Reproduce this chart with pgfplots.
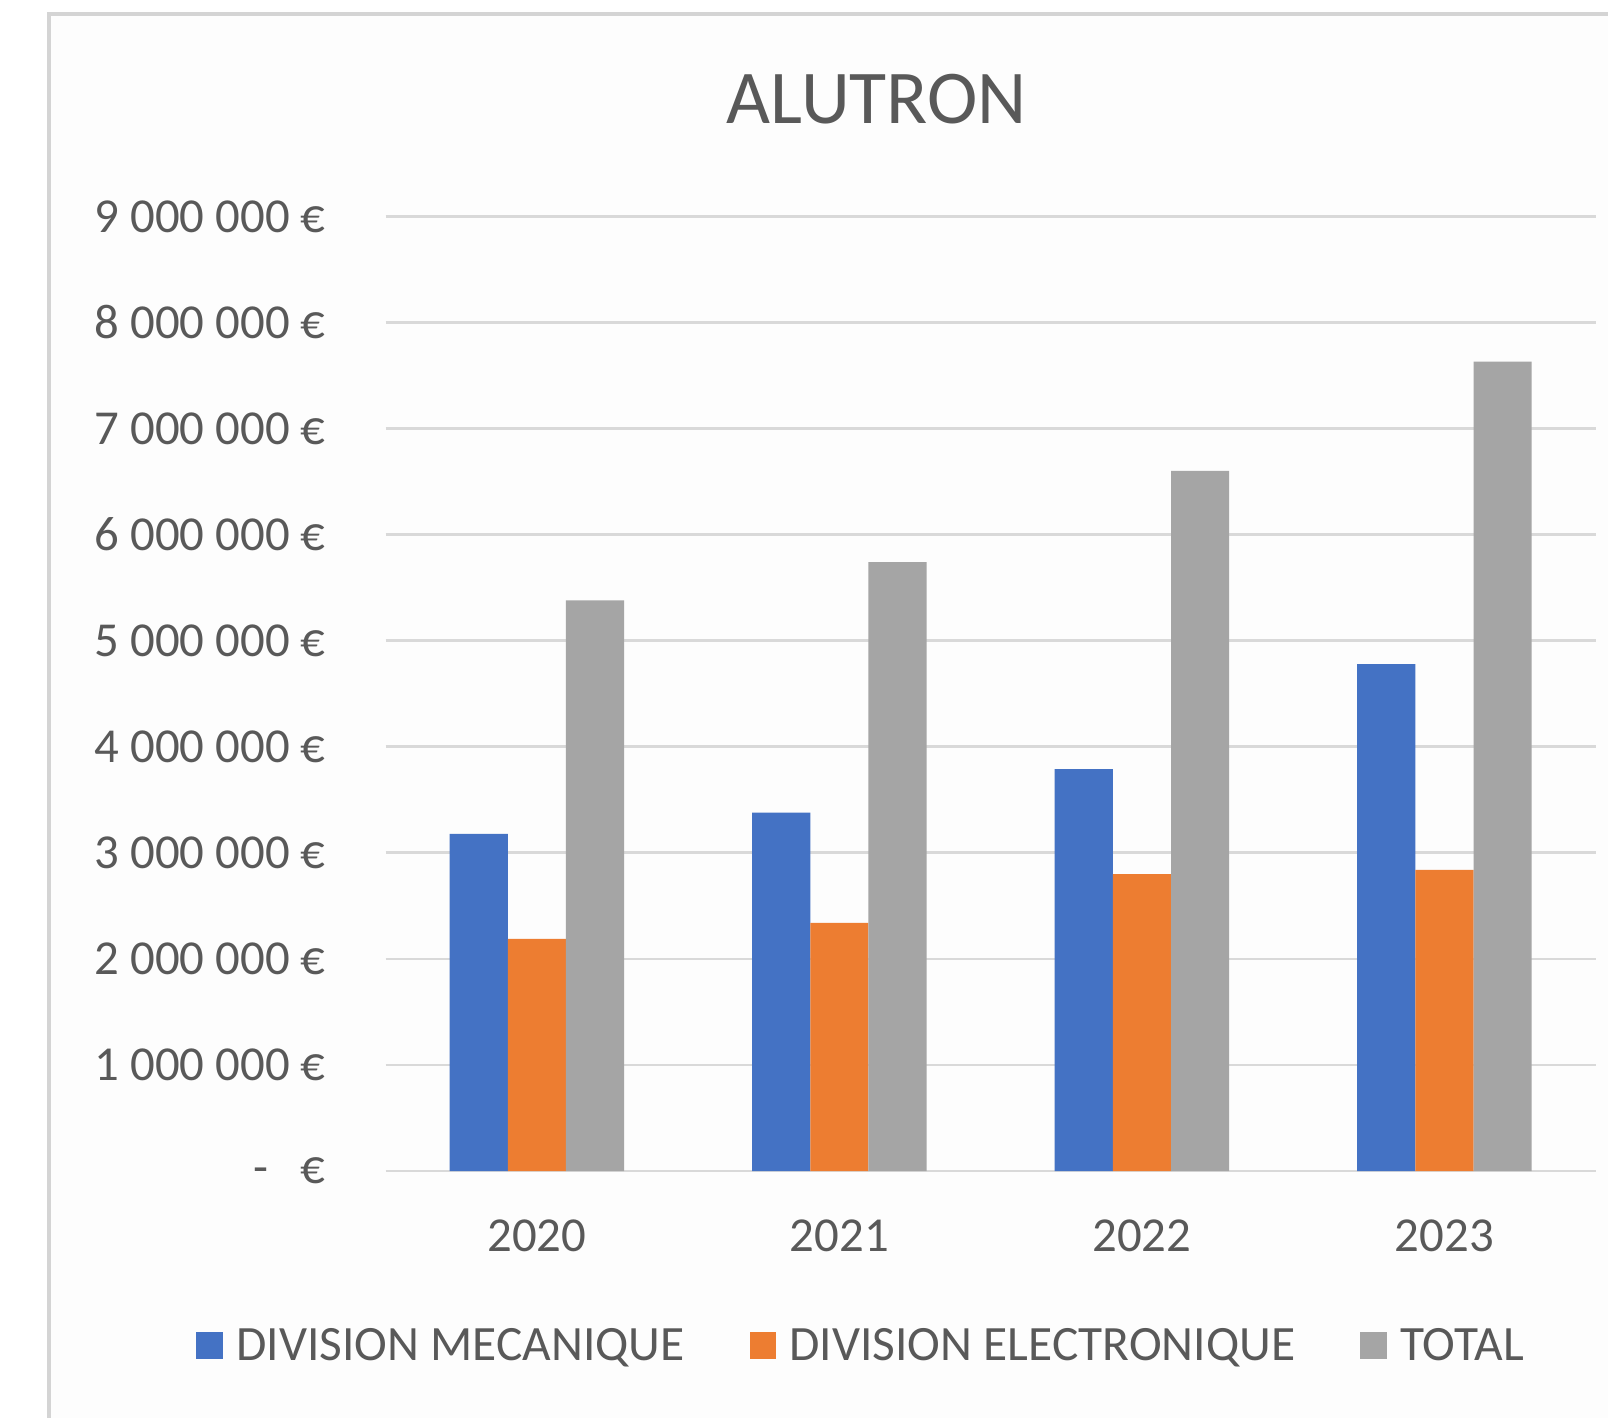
\documentclass[border=0pt]{standalone}
\usepackage{pgfplots}
\pgfplotsset{compat=1.18}
\usepackage{fontspec}
\setmainfont{Carlito}
\definecolor{cblue}{HTML}{4472C4}
\definecolor{corange}{HTML}{ED7D31}
\definecolor{cgray}{HTML}{A5A5A5}
\definecolor{ctext}{HTML}{595959}
\definecolor{cgrid}{HTML}{D9D9D9}
\definecolor{cborder}{HTML}{D4D4D4}
\definecolor{cbg}{HTML}{FDFDFD}
\begin{document}
\begin{tikzpicture}[x=1pt,y=1pt]
\useasboundingbox (0,0) rectangle (804,709);
\fill[white] (0,0) rectangle (804,709);
\fill[cbg] (24.6,0) rectangle (804,701.8);
\draw[cborder, line width=2pt] (24.6,-2) -- (24.6,701.8) -- (806,701.8);
\begin{axis}[
  at={(192.8pt,123.45pt)}, anchor=south west,
  width=605.05pt, height=477.35pt, scale only axis,
  ybar=0pt, bar width=29.1pt,
  xmin=-0.5, xmax=3.5, ymin=0, ymax=9000000,
  axis lines*=left,
  axis line style={draw=none},
  major tick length=0pt,
  xtick={0,1,2,3}, xticklabels={2020,2021,2022,2023},
  ytick={0,1000000,2000000,3000000,4000000,5000000,6000000,7000000,8000000,9000000},
  yticklabels={{-\hspace{16pt}€},{1 000 000 €},{2 000 000 €},{3 000 000 €},{4 000 000 €},{5 000 000 €},{6 000 000 €},{7 000 000 €},{8 000 000 €},{9 000 000 €}},
  scaled y ticks=false,
  ymajorgrids, grid style={cgrid, line width=1.4pt},
  ticklabel style={font=\fontsize{24.4}{29}\selectfont, text=ctext, inner sep=0pt},
  yticklabel style={anchor=east, xshift=-29.8pt},
  xticklabel style={anchor=center, yshift=-32.3pt},
  legend style={at={(-0.1568,-0.1828)}, anchor=west, draw=none, fill=none,
    font=\fontsize{24.7}{29}\selectfont, text=ctext, inner sep=0pt,
    nodes={inner sep=0pt},
    /tikz/every odd column/.append style={column sep=6.7pt},
    /tikz/every even column/.append style={column sep=32.5pt}},
  legend columns=3,
  legend image code/.code={\fill[#1] (0pt,-6.65pt) rectangle (13.3pt,6.65pt);},
]
\addplot[fill=cblue, draw=none] coordinates {(0,3180000) (1,3380000) (2,3790000) (3,4780000)};
\addplot[fill=corange, draw=none] coordinates {(0,2190000) (1,2340000) (2,2800000) (3,2840000)};
\addplot[fill=cgray, draw=none] coordinates {(0,5380000) (1,5740000) (2,6600000) (3,7630000)};
\legend{DIVISION MECANIQUE, DIVISION ELECTRONIQUE, TOTAL}
\end{axis}
\node[font=\fontsize{38}{44}\selectfont, text=ctext, inner sep=0pt] at (438.4,659.25) {ALUTRON};
\end{tikzpicture}
\end{document}
